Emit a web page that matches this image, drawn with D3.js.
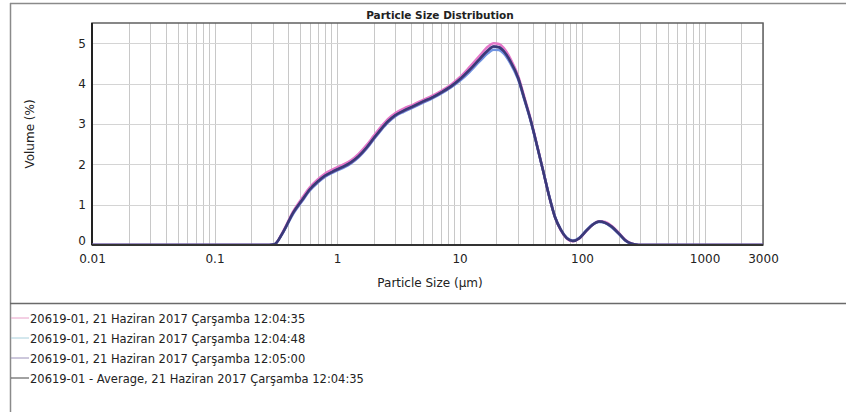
<!DOCTYPE html>
<html>
<head>
<meta charset="utf-8">
<script src="https://cdn.jsdelivr.net/npm/d3@7"></script>
<style>
  html, body { margin: 0; padding: 0; background: #fff; }
  svg { display: block; }
  text { font-family: "DejaVu Sans", Verdana, sans-serif; fill: #222; }
</style>
</head>
<body>
<svg id="chart" width="846" height="412"></svg>
<script>
// Particle sizes (µm) at which the volume fractions were sampled
const sizes = [0.01, 0.28, 0.31, 0.36, 0.44, 0.52, 0.60, 0.70, 0.80, 0.95, 1.1, 1.3, 1.5, 1.75, 2.0, 2.3, 2.6, 3.0, 3.5, 4.2, 5.0, 6.0, 7.0, 8.5, 10, 12, 14.5, 17, 19, 21, 23, 26, 30, 34, 38, 43, 48, 54, 60, 67, 75, 84, 95, 108, 122, 138, 155, 175, 200, 225, 255, 290, 3000];

// Volume (%) for each measurement
const run1 = [0, 0, 0.02, 0.32, 0.84, 1.17, 1.43, 1.63, 1.77, 1.89, 1.98, 2.10, 2.26, 2.48, 2.71, 2.94, 3.12, 3.27, 3.38, 3.48, 3.59, 3.70, 3.81, 3.97, 4.15, 4.40, 4.68, 4.91, 5.00, 4.98, 4.88, 4.62, 4.20, 3.64, 3.13, 2.47, 1.86, 1.20, 0.70, 0.37, 0.16, 0.09, 0.16, 0.34, 0.50, 0.59, 0.57, 0.47, 0.30, 0.13, 0.03, 0, 0];
const run2 = [0, 0, 0.02, 0.29, 0.78, 1.09, 1.35, 1.55, 1.69, 1.81, 1.90, 2.02, 2.17, 2.39, 2.62, 2.85, 3.03, 3.19, 3.30, 3.41, 3.52, 3.63, 3.74, 3.90, 4.06, 4.28, 4.54, 4.75, 4.84, 4.83, 4.74, 4.50, 4.11, 3.57, 3.08, 2.44, 1.85, 1.21, 0.71, 0.39, 0.18, 0.11, 0.18, 0.36, 0.51, 0.57, 0.54, 0.43, 0.27, 0.11, 0.02, 0, 0];
const run3 = [0, 0, 0.02, 0.30, 0.80, 1.11, 1.37, 1.57, 1.71, 1.83, 1.92, 2.04, 2.19, 2.41, 2.64, 2.87, 3.05, 3.21, 3.32, 3.43, 3.54, 3.65, 3.76, 3.92, 4.09, 4.32, 4.59, 4.81, 4.92, 4.90, 4.80, 4.55, 4.15, 3.60, 3.10, 2.45, 1.85, 1.20, 0.70, 0.38, 0.17, 0.10, 0.17, 0.35, 0.50, 0.58, 0.55, 0.45, 0.28, 0.12, 0.03, 0, 0];
const average = [0, 0, 0.02, 0.30, 0.81, 1.12, 1.38, 1.58, 1.72, 1.84, 1.93, 2.05, 2.20, 2.42, 2.65, 2.88, 3.06, 3.22, 3.33, 3.44, 3.55, 3.66, 3.77, 3.93, 4.10, 4.33, 4.60, 4.82, 4.92, 4.90, 4.80, 4.55, 4.15, 3.60, 3.10, 2.45, 1.85, 1.20, 0.70, 0.38, 0.17, 0.10, 0.17, 0.35, 0.50, 0.58, 0.55, 0.45, 0.28, 0.12, 0.03, 0, 0];

const legendLabels = [
  "20619-01, 21 Haziran 2017 Çarşamba 12:04:35",
  "20619-01, 21 Haziran 2017 Çarşamba 12:04:48",
  "20619-01, 21 Haziran 2017 Çarşamba 12:05:00",
  "20619-01 - Average, 21 Haziran 2017 Çarşamba 12:04:35"
];
const seriesColors = ["#e377c8", "#6f93e0", "#7a5aa8", "#3a3a78"];
const legendColors = ["#e8a0c8", "#a8d0dc", "#9a90b8", "#444444"];

const xTickValues = [0.01, 0.1, 1, 10, 100, 1000, 3000];
const xTickLabels = ["0.01", "0.1", "1", "10", "100", "1000", "3000"];
const yTickValues = [0, 1, 2, 3, 4, 5];

const svg = d3.select("#chart");
const plot = { left: 92, right: 763, top: 23, bottom: 245 };

const x = d3.scaleLog().domain([0.01, 3000]).range([plot.left, plot.right]);
const y = d3.scaleLinear().domain([0, 5.5]).range([plot.bottom, plot.top]);

// Outer panel border and legend separator
svg.append("line").attr("x1", 10).attr("x2", 846).attr("y1", 3.5).attr("y2", 3.5)
  .attr("stroke", "#8a8a8a").attr("stroke-width", 1.5);
svg.append("line").attr("x1", 10.5).attr("x2", 10.5).attr("y1", 3).attr("y2", 412)
  .attr("stroke", "#8a8a8a").attr("stroke-width", 1.5);
svg.append("line").attr("x1", 10).attr("x2", 846).attr("y1", 303.5).attr("y2", 303.5)
  .attr("stroke", "#6a6a6a").attr("stroke-width", 1.5);

// Log grid: every 1..9 × decade
const gridX = [];
for (let p = -2; p <= 3; p++) {
  for (let k = 1; k <= 9; k++) {
    const v = k * Math.pow(10, p);
    if (v > 0.01 && v <= 3000) gridX.push(v);
  }
}
svg.append("g").selectAll("line").data(gridX).join("line")
  .attr("x1", d => Math.round(x(d)) + 0.5).attr("x2", d => Math.round(x(d)) + 0.5)
  .attr("y1", plot.top).attr("y2", plot.bottom)
  .attr("stroke", "#c8c8c8").attr("stroke-width", 1);
svg.append("g").selectAll("line").data(yTickValues.slice(1)).join("line")
  .attr("x1", plot.left).attr("x2", plot.right)
  .attr("y1", d => Math.round(y(d)) + 0.5).attr("y2", d => Math.round(y(d)) + 0.5)
  .attr("stroke", "#d4d4d4").attr("stroke-width", 1);

// Plot frame
svg.append("rect")
  .attr("x", plot.left).attr("y", plot.top)
  .attr("width", plot.right - plot.left).attr("height", plot.bottom - plot.top)
  .attr("fill", "none").attr("stroke", "#606060").attr("stroke-width", 1.5);
svg.append("line").attr("x1", plot.left).attr("x2", plot.left).attr("y1", plot.top).attr("y2", plot.bottom)
  .attr("stroke", "#222").attr("stroke-width", 2);
svg.append("line").attr("x1", plot.left).attr("x2", plot.right).attr("y1", plot.bottom).attr("y2", plot.bottom)
  .attr("stroke", "#333").attr("stroke-width", 2);

// Axes (labels only; the frame draws the domain lines)
const xAxis = d3.axisBottom(x).tickValues(xTickValues)
  .tickFormat((d, i) => xTickLabels[i]).tickSize(0).tickPadding(9);
const gx = svg.append("g").attr("transform", `translate(0,${plot.bottom})`).call(xAxis);
gx.select(".domain").remove();
gx.selectAll("text").style("font-size", "12px").style("font-family", "DejaVu Sans, sans-serif").attr("fill", "#222");

const yAxis = d3.axisLeft(y).tickValues(yTickValues).tickFormat(d3.format("d")).tickSize(0).tickPadding(6);
const gy = svg.append("g").attr("transform", `translate(${plot.left},0)`).call(yAxis);
gy.select(".domain").remove();
gy.selectAll("text").style("font-size", "12px").style("font-family", "DejaVu Sans, sans-serif").attr("fill", "#222");
// the zero label sits just above the corner so it clears "0.01"
gy.selectAll(".tick").filter(d => d === 0).select("text").attr("dy", "-0.05em");

// Titles
svg.append("text").attr("x", 440).attr("y", 19).attr("text-anchor", "middle")
  .style("font-size", "10.5px").style("font-weight", "bold").text("Particle Size Distribution");
svg.append("text").attr("x", 430).attr("y", 287).attr("text-anchor", "middle")
  .style("font-size", "12px").text("Particle Size (µm)");
svg.append("text").attr("transform", `translate(34,${(plot.top + plot.bottom) / 2}) rotate(-90)`)
  .attr("text-anchor", "middle").style("font-size", "12px").text("Volume (%)");

// Distribution curves
const series = [run1, run2, run3, average];
const line = d3.line()
  .x((d, i) => x(sizes[i]))
  .y(d => y(d))
  .curve(d3.curveMonotoneX);
svg.append("clipPath").attr("id", "plotclip").append("rect")
  .attr("x", plot.left).attr("y", plot.top - 2).attr("width", plot.right - plot.left).attr("height", plot.bottom - plot.top + 1);
svg.append("g").attr("clip-path", "url(#plotclip)")
  .selectAll("path").data(series).join("path")
  .attr("d", line)
  .attr("fill", "none")
  .attr("stroke", (d, i) => seriesColors[i])
  .attr("stroke-width", 2.5)
  .attr("stroke-linejoin", "round");

// Legend
const legend = svg.append("g").selectAll("g").data(legendLabels).join("g")
  .attr("transform", (d, i) => `translate(0,${318 + i * 20})`);
legend.append("line").attr("x1", 11).attr("x2", 29).attr("y1", 0).attr("y2", 0)
  .attr("stroke", (d, i) => legendColors[i]).attr("stroke-width", 1);
legend.append("text").attr("x", 30).attr("y", 4.5)
  .style("font-size", "11.5px").text(d => d);
</script>
</body>
</html>
